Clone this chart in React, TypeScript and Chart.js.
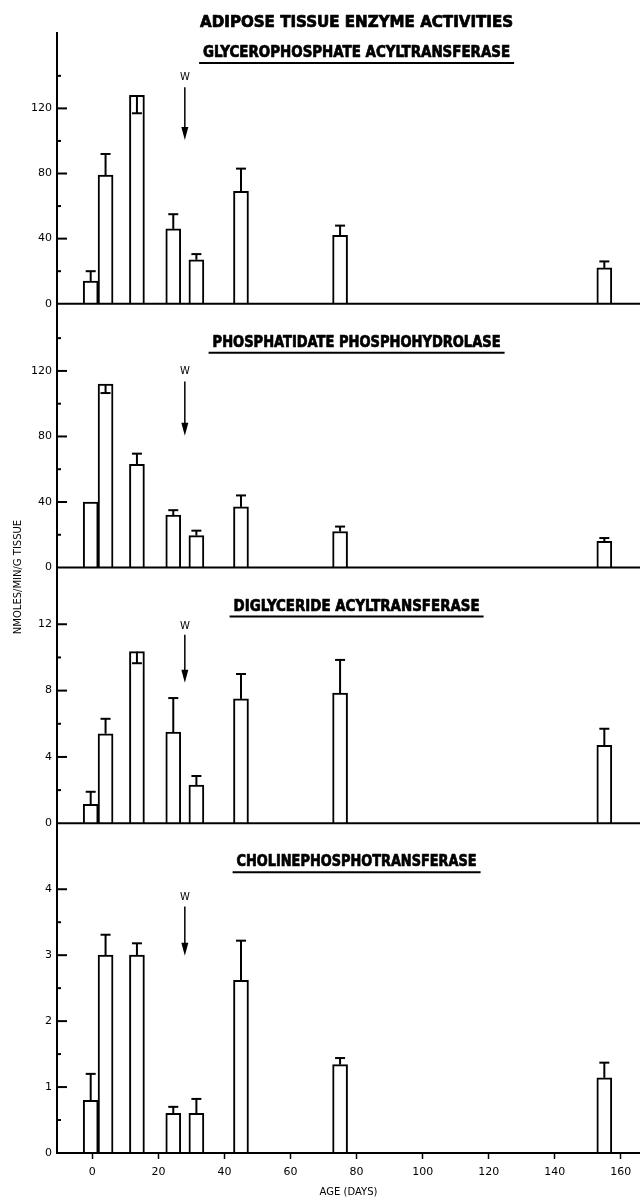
import React, { useEffect, useRef } from 'react';
import { Chart, registerables } from 'chart.js';

Chart.register(...registerables);

// ---------- data ----------
const ages = [-0.5, 4, 13.5, 24.5, 31.5, 45, 75, 155];
const xTickValues = [0, 20, 40, 60, 80, 100, 120, 140, 160];

const mainTitle = 'ADIPOSE TISSUE ENZYME ACTIVITIES';
const panelTitles = [
  'GLYCEROPHOSPHATE ACYLTRANSFERASE',
  'PHOSPHATIDATE PHOSPHOHYDROLASE',
  'DIGLYCERIDE ACYLTRANSFERASE',
  'CHOLINEPHOSPHOTRANSFERASE',
];
const yAxisTitle = 'NMOLES/MIN/G TISSUE';
const xAxisTitle = 'AGE (DAYS)';
const weaningLabel = 'W';
const weaningAge = 28;

const gpatMeans = [14, 79, 128, 46, 27, 69, 42, 22];
const gpatErrors = [6, 13, 11, 9, 3.5, 14, 6, 4];
const gpatErrorDir = [1, 1, -1, 1, 1, 1, 1, 1];

const papMeans = [40, 112, 63, 32, 19.5, 37, 22, 16];
const papErrors = [0, 5.5, 6.5, 3, 3, 7, 3, 2];
const papErrorDir = [1, -1, 1, 1, 1, 1, 1, 1];

const dgatMeans = [1.15, 5.4, 10.35, 5.5, 2.3, 7.5, 7.85, 4.7];
const dgatErrors = [0.75, 0.9, 0.7, 2.05, 0.55, 1.5, 2.0, 1.0];
const dgatErrorDir = [1, 1, -1, 1, 1, 1, 1, 1];

const cptMeans = [0.8, 3.0, 3.0, 0.6, 0.6, 2.62, 1.34, 1.14];
const cptErrors = [0.4, 0.31, 0.18, 0.1, 0.22, 0.6, 0.1, 0.23];
const cptErrorDir = [1, 1, 1, 1, 1, 1, 1, 1];

const yMajorTicks = [
  [0, 40, 80, 120],
  [0, 40, 80, 120],
  [0, 4, 8, 12],
  [0, 1, 2, 3, 4],
];
const yMinorTicks = [
  [20, 60, 100, 140],
  [20, 60, 100, 140],
  [2, 6, 10],
  [0.5, 1.5, 2.5, 3.5],
];
const yMax = [166.3, 161, 15.42, 5.0];

// W arrow positions in each panel's units: label, arrow start, arrow tip
const wLabelAt = [139, 120, 11.85, 3.87];
const wArrowFrom = [133, 113.6, 11.36, 3.74];
const wArrowTo = [100.6, 80.4, 8.48, 2.99];

// ---------- style ----------
const AXIS_IDS = ['y1', 'y2', 'y3', 'y4'];
const panelPixelHeights = [271, 264, 256, 330];
const titleOffsets = [20, 39, 39, 39];
const titleWidths = [307, 288, 246, 240];
const mainTitleWidth = 313;
const titleCenterDay = 80;
const TITLE_FONT = "bold 16px 'Liberation Sans Narrow', 'DejaVu Sans Condensed', 'DejaVu Sans', sans-serif";
const SMALL_FONT = "10px 'DejaVu Sans', sans-serif";

const panelMeans = [gpatMeans, papMeans, dgatMeans, cptMeans];
const panelErrors = [gpatErrors, papErrors, dgatErrors, cptErrors];
const panelErrorDir = [gpatErrorDir, papErrorDir, dgatErrorDir, cptErrorDir];

function line(ctx: CanvasRenderingContext2D, x1: number, y1: number, x2: number, y2: number) {
  ctx.beginPath();
  ctx.moveTo(x1, y1);
  ctx.lineTo(x2, y2);
  ctx.stroke();
}

function fittedText(ctx: CanvasRenderingContext2D, text: string, cx: number, cy: number, width: number) {
  const w = ctx.measureText(text).width;
  ctx.save();
  ctx.translate(cx, cy);
  ctx.scale(width / w, 1);
  ctx.lineWidth = 0.7;
  ctx.lineJoin = 'round';
  ctx.fillText(text, 0, 0);
  ctx.strokeText(text, 0, 0);
  ctx.restore();
}

const overlayPlugin = {
  id: 'overlay',
  afterDatasetsDraw(chart: any) {
    const ctx: CanvasRenderingContext2D = chart.ctx;
    const area = chart.chartArea;
    const xs = chart.scales.x;
    ctx.save();
    ctx.strokeStyle = '#000';
    ctx.fillStyle = '#000';
    ctx.lineCap = 'butt';

    AXIS_IDS.forEach((id, i) => {
      const ys = chart.scales[id];
      // zero line
      ctx.lineWidth = 2;
      const y0 = ys.getPixelForValue(0);
      line(ctx, area.left, y0, area.right, y0);
      // inward ticks
      yMajorTicks[i].forEach((v) => {
        if (v === 0) return;
        const y = ys.getPixelForValue(v);
        line(ctx, area.left, y, area.left + 10, y);
      });
      yMinorTicks[i].forEach((v) => {
        const y = ys.getPixelForValue(v);
        line(ctx, area.left, y, area.left + 4, y);
      });
      // error bars
      const meta = chart.getDatasetMeta(i);
      meta.data.forEach((bar: any, j: number) => {
        const e = panelErrors[i][j];
        if (!e) return;
        const v = panelMeans[i][j];
        const yTop = ys.getPixelForValue(v);
        const yEnd = ys.getPixelForValue(v + panelErrorDir[i][j] * e);
        ctx.lineWidth = 2;
        line(ctx, bar.x, yTop, bar.x, yEnd);
        line(ctx, bar.x - 5, yEnd, bar.x + 5, yEnd);
      });
      // panel title + underline
      const cx = xs.getPixelForValue(titleCenterDay);
      const ty = ys.top + titleOffsets[i];
      ctx.font = TITLE_FONT;
      ctx.textAlign = 'center';
      ctx.textBaseline = 'middle';
      fittedText(ctx, panelTitles[i], cx, ty, titleWidths[i]);
      ctx.lineWidth = 2;
      line(ctx, cx - titleWidths[i] / 2 - 4, ty + 10, cx + titleWidths[i] / 2 + 4, ty + 10);
      // weaning arrow
      const ax = xs.getPixelForValue(weaningAge);
      ctx.font = SMALL_FONT;
      ctx.fillText(weaningLabel, ax, ys.getPixelForValue(wLabelAt[i]));
      const aFrom = ys.getPixelForValue(wArrowFrom[i]);
      const aTo = ys.getPixelForValue(wArrowTo[i]);
      ctx.lineWidth = 1.5;
      line(ctx, ax, aFrom, ax, aTo - 10);
      ctx.beginPath();
      ctx.moveTo(ax - 3.5, aTo - 13);
      ctx.lineTo(ax + 3.5, aTo - 13);
      ctx.lineTo(ax, aTo);
      ctx.closePath();
      ctx.fill();
    });

    // main title
    ctx.font = TITLE_FONT;
    ctx.textAlign = 'center';
    ctx.textBaseline = 'middle';
    fittedText(ctx, mainTitle, xs.getPixelForValue(titleCenterDay), area.top - 10, mainTitleWidth);

    // axis titles
    ctx.font = SMALL_FONT;
    ctx.fillText(xAxisTitle, (area.left + area.right) / 2, chart.height - 6);
    ctx.save();
    ctx.translate(18, 577);
    ctx.rotate(-Math.PI / 2);
    ctx.fillText(yAxisTitle, 0, 0);
    ctx.restore();

    ctx.restore();
  },
};

export default function App() {
  const canvasRef = useRef<HTMLCanvasElement | null>(null);

  useEffect(() => {
    const canvas = canvasRef.current;
    if (!canvas) return;

    const datasets = panelMeans.map((means, i) => ({
      label: panelTitles[i],
      data: ages.map((a, j) => ({ x: a, y: means[j] })),
      yAxisID: AXIS_IDS[i],
      xAxisID: 'x',
      backgroundColor: '#ffffff',
      borderColor: '#000000',
      borderWidth: 2,
      barThickness: 15,
      grouped: false,
    }));

    const tickFont = { family: "'DejaVu Sans', sans-serif", size: 11 };
    const yScales: any = {};
    // stacked left axes: the last one defined is placed on top, so add bottom panel first
    [...AXIS_IDS].reverse().forEach((id) => {
      const i = AXIS_IDS.indexOf(id);
      yScales[id] = {
        type: 'linear',
        position: 'left',
        stack: 'panels',
        stackWeight: panelPixelHeights[i],
        min: 0,
        max: yMax[i],
        bounds: 'data',
        grid: { display: false, drawTicks: false },
        border: { display: true, color: '#000', width: 2 },
        afterBuildTicks: (scale: any) => {
          scale.ticks = [...yMajorTicks[i], ...yMinorTicks[i]]
            .sort((a, b) => a - b)
            .map((v) => ({ value: v }));
        },
        afterFit: (scale: any) => {
          scale.width = 57;
        },
        ticks: {
          color: '#000',
          font: tickFont,
          padding: 5,
          autoSkip: false,
          callback: (v: number) => (yMajorTicks[i].includes(v) ? String(v) : ''),
        },
      };
    });

    const chart = new Chart(canvas, {
      type: 'bar',
      data: { datasets },
      options: {
        responsive: false,
        animation: false,
        layout: { padding: { top: 33, left: 0, right: 0, bottom: 0 } },
        plugins: {
          legend: { display: false },
          tooltip: { enabled: false },
          title: { display: false },
        },
        scales: {
          x: {
            type: 'linear',
            position: 'bottom',
            min: -10.7,
            max: 165.8,
            bounds: 'data',
            offset: false,
            grid: {
              offset: false,
              drawOnChartArea: false,
              drawTicks: true,
              tickLength: 6,
              tickColor: '#000',
              tickWidth: 1.5,
              color: '#000',
            },
            border: { display: true, color: '#000', width: 2 },
            afterBuildTicks: (scale: any) => {
              scale.ticks = xTickValues.map((v) => ({ value: v }));
            },
            afterFit: (scale: any) => {
              scale.height = 45;
            },
            ticks: {
              color: '#000',
              font: tickFont,
              padding: 7,
              autoSkip: false,
              maxRotation: 0,
              callback: (v: number) => String(v),
            },
          },
          ...yScales,
        },
      } as any,
      plugins: [overlayPlugin],
    });

    return () => chart.destroy();
  }, []);

  return (
    <div style={{ position: 'absolute', left: 0, top: 0, width: 640, height: 1198, background: '#fff' }}>
      <canvas ref={canvasRef} width={640} height={1198} style={{ display: 'block' }} />
    </div>
  );
}
